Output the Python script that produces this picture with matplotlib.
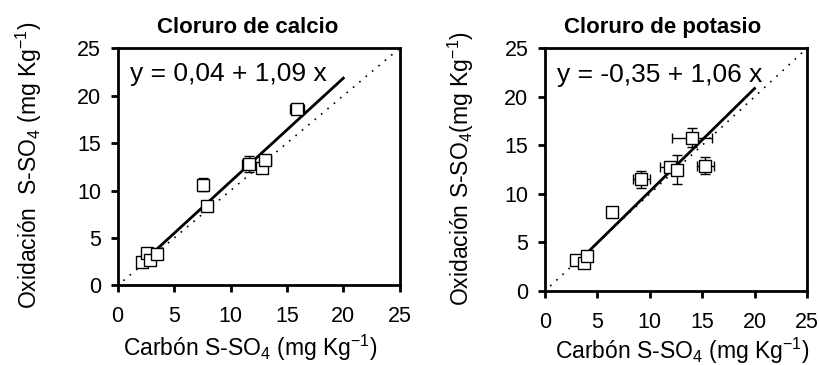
import numpy as np
import matplotlib
matplotlib.use("Agg")
import matplotlib.pyplot as plt

plt.rcParams['font.family'] = ['Liberation Sans', 'DejaVu Sans']
plt.rcParams['mathtext.fontset'] = 'custom'
plt.rcParams['mathtext.rm'] = 'Liberation Sans'
plt.rcParams['mathtext.it'] = 'Liberation Sans:italic'
plt.rcParams['mathtext.bf'] = 'Liberation Sans:bold'

# ---- datos: Cloruro de calcio ----
cc_x = [2.2, 2.6, 2.9, 3.5, 7.6, 7.9, 11.6, 12.8, 13.1, 15.9]
cc_y = [2.5, 3.4, 2.7, 3.3, 10.6, 8.4, 12.8, 12.4, 13.2, 18.6]
cc_xerr = [0.1, 0.2, 0.1, 0.2, 0.1, 0.3, 0.6, 0.3, 0.5, 0.6]
cc_yerr = [0.1, 0.2, 0.1, 0.1, 0.7, 0.2, 0.8, 0.4, 0.3, 0.3]
cc_fit = (0.04, 1.09)
cc_fit_range = (2.3, 20.0)

# ---- datos: Cloruro de potasio ----
kc_x = [3.0, 3.7, 4.0, 6.4, 9.2, 11.9, 12.6, 14.0, 15.3]
kc_y = [3.2, 2.9, 3.6, 8.1, 11.5, 12.8, 12.5, 15.8, 12.9]
kc_xerr = [0.2, 0.2, 0.3, 0.3, 0.8, 0.9, 0.4, 1.9, 0.8]
kc_yerr = [0.2, 0.2, 0.2, 0.4, 0.9, 0.5, 1.5, 0.95, 0.9]
kc_fit = (-0.35, 1.06)
kc_fit_range = (3.8, 20.0)

ticks = [0, 5, 10, 15, 20, 25]

fig = plt.figure(figsize=(8.2, 3.65), dpi=100)
ax1 = fig.add_axes([0.1435, 0.218, 0.344, 0.650])
ax2 = fig.add_axes([0.6646, 0.203, 0.3195, 0.665])


def panel(ax, x, y, xerr, yerr, fit, fit_range, title, eq, ylabel, title_x):
    # linea 1:1
    ax.plot([0.5, 25], [0.5, 25], color='black', lw=1.2, ls=(0, (1, 4)), zorder=1)
    # recta de regresion
    xs = np.array(fit_range)
    ax.plot(xs, fit[0] + fit[1] * xs, color='black', lw=2.0, zorder=2)
    ax.errorbar(x, y, xerr=xerr, yerr=yerr, fmt='s', ms=8, mfc='white',
                mec='black', mew=1.0, ecolor='black', elinewidth=1.0,
                capsize=3.5, capthick=1.0, zorder=3)
    ax.set_xlim(0, 25)
    ax.set_ylim(0, 25)
    ax.set_xticks(ticks)
    ax.set_yticks(ticks)
    for s in ax.spines.values():
        s.set_linewidth(2.0)
    ax.tick_params(axis='both', direction='out', length=5, width=2.0, labelsize=15.5)
    ax.tick_params(axis='x', pad=10)
    ax.tick_params(axis='y', pad=7)
    ax.text(0.045, 0.89, eq, transform=ax.transAxes, fontsize=19, va='center', ha='left')
    t = ax.set_title(title, fontsize=16, fontweight='bold', pad=11)
    t.set_x(title_x)
    ax.set_xlabel(r'Carbón S-SO$_4$ (mg Kg$^{-1}$)', fontsize=16.5)
    ax.set_ylabel(ylabel, fontsize=16.5)


panel(ax1, cc_x, cc_y, cc_xerr, cc_yerr, cc_fit, cc_fit_range,
      'Cloruro de calcio', 'y = 0,04 + 1,09 x',
      r'Oxidación  S-SO$_4$ (mg Kg$^{-1}$)', 0.46)
panel(ax2, kc_x, kc_y, kc_xerr, kc_yerr, kc_fit, kc_fit_range,
      'Cloruro de potasio', 'y = -0,35 + 1,06 x',
      r'Oxidación S-SO$_4$(mg Kg$^{-1}$)', 0.45)

ax1.xaxis.set_label_coords(0.47, -0.2)
ax1.yaxis.set_label_coords(-0.26, 0.505)
ax2.xaxis.set_label_coords(0.525, -0.185)
ax2.yaxis.set_label_coords(-0.265, 0.505)

fig.savefig('out.png', dpi=100)
